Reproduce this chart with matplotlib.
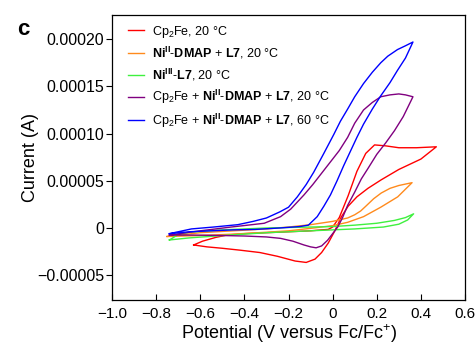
import numpy as np
import matplotlib
matplotlib.use("Agg")
import matplotlib.pyplot as plt

plt.rcParams["font.family"] = ["Liberation Sans", "DejaVu Sans"]
plt.rcParams["mathtext.fontset"] = "custom"
plt.rcParams["mathtext.rm"] = "Liberation Sans"
plt.rcParams["mathtext.it"] = "Liberation Sans:italic"
plt.rcParams["mathtext.bf"] = "Liberation Sans:bold"

# current values are in units of 1e-5 A, each loop listed as one path
red_v = [-0.63, -0.59, -0.53, -0.48, -0.40, -0.30, -0.20, -0.10, -0.05, -0.02, 0.0, 0.03, 0.07,
         0.11, 0.15, 0.19, 0.24, 0.30, 0.38, 0.47,
         0.40, 0.30, 0.22, 0.16, 0.11, 0.07, 0.04, 0.01, -0.02, -0.05, -0.08, -0.12, -0.17, -0.25,
         -0.33, -0.42, -0.50, -0.57, -0.63]
red_i = [-1.8, -1.4, -1.0, -0.75, -0.6, -0.5, -0.4, -0.3, -0.2, -0.15, 0.1, 1.1, 3.4,
         6.0, 7.9, 8.8, 8.7, 8.5, 8.5, 8.6,
         7.3, 6.2, 5.1, 4.2, 3.3, 2.3, 1.2, -0.3, -1.6, -2.6, -3.3, -3.65, -3.5, -3.0,
         -2.6, -2.35, -2.15, -2.0, -1.8]

orange_v = [-0.75, -0.6, -0.45, -0.3, -0.2, -0.086, 0.0, 0.068, 0.14, 0.218, 0.295, 0.36,
            0.30, 0.26, 0.22, 0.186, 0.15, 0.127, 0.10, 0.068, 0.0, -0.1, -0.2, -0.3, -0.45,
            -0.6, -0.75]
orange_i = [-0.9, -0.8, -0.65, -0.45, -0.3, 0.0, 0.25, 0.6, 1.2, 2.2, 3.3, 4.8,
            4.5, 4.2, 3.7, 3.1, 2.3, 1.8, 1.4, 1.06, 0.7, 0.35, 0.1, -0.1, -0.3,
            -0.5, -0.9]

green_v = [-0.74, -0.65, -0.5, -0.3, -0.1, 0.1, 0.23, 0.30, 0.34, 0.367,
           0.33, 0.28, 0.2, 0.1, 0.0, -0.3, -0.5, -0.65, -0.70, -0.74]
green_i = [-1.27, -1.05, -0.8, -0.5, -0.3, -0.1, 0.1, 0.4, 0.85, 1.5,
           1.1, 0.8, 0.5, 0.3, 0.15, 0.0, -0.2, -0.45, -0.7, -1.27]

purple_v = [-0.74, -0.63, -0.5, -0.4, -0.3, -0.236, -0.18, -0.13, -0.1, -0.075, -0.05, -0.023,
            0.0, 0.023, 0.045, 0.068, 0.1, 0.13, 0.16, 0.2, 0.24, 0.28, 0.32, 0.364,
            0.33, 0.30, 0.26, 0.218, 0.18, 0.14, 0.10, 0.068, 0.03, -0.01, -0.04, -0.09,
            -0.13, -0.19, -0.236, -0.31, -0.46, -0.6, -0.74]
purple_i = [-0.75, -0.75, -0.8, -0.85, -0.95, -1.1, -1.4, -1.8, -2.0, -2.1, -1.9, -1.3,
            -0.6, 0.1, 1.1, 2.4, 3.8, 5.2, 6.3, 7.8, 9.0, 10.3, 11.8, 13.9,
            14.1, 14.2, 14.1, 13.9, 13.3, 12.5, 11.1, 9.6, 8.2, 7.0, 6.1, 4.6,
            3.5, 2.0, 1.2, 0.5, 0.1, -0.3, -0.75]

blue_v = [-0.74, -0.65, -0.55, -0.45, -0.35, -0.24, -0.15, -0.11, -0.07, -0.04, -0.01, 0.02,
          0.05, 0.08, 0.11, 0.14, 0.18, 0.218, 0.26, 0.294, 0.33, 0.364,
          0.33, 0.294, 0.25, 0.218, 0.18, 0.14, 0.10, 0.068, 0.035, 0.005, -0.04, -0.086,
          -0.12, -0.16, -0.2, -0.24, -0.3, -0.36, -0.43, -0.54, -0.64, -0.74]
blue_i = [-0.6, -0.4, -0.3, -0.2, -0.15, 0.0, 0.15, 0.3, 1.2, 2.3, 3.5, 5.0,
          6.6, 8.1, 9.6, 11.0, 12.6, 14.0, 15.4, 16.7, 18.0, 19.7,
          19.3, 18.9, 18.2, 17.5, 16.5, 15.3, 13.9, 12.6, 11.3, 9.9, 7.9, 5.9,
          4.6, 3.3, 2.2, 1.7, 1.06, 0.7, 0.35, 0.1, -0.1, -0.6]

labels = [
    "Cp$_2$Fe, 20 °C",
    r"$\mathbf{Ni^{II}}$-$\mathbf{DMAP}$ + $\mathbf{L7}$, 20 °C",
    r"$\mathbf{Ni^{III}}$-$\mathbf{L7}$, 20 °C",
    r"Cp$_2$Fe + $\mathbf{Ni^{II}}$-$\mathbf{DMAP}$ + $\mathbf{L7}$, 20 °C",
    r"Cp$_2$Fe + $\mathbf{Ni^{II}}$-$\mathbf{DMAP}$ + $\mathbf{L7}$, 60 °C",
]
colors = ["#ff0000", "#ff8a1c", "#3ff03f", "#800080", "#0000ff"]

xticks = [-1.0, -0.8, -0.6, -0.4, -0.2, 0.0, 0.2, 0.4, 0.6]
xticklabels = ["−1.0", "−0.8", "−0.6", "−0.4", "−0.2", "0", "0.2", "0.4", "0.6"]
yticks = [-0.00005, 0.0, 0.00005, 0.0001, 0.00015, 0.0002]
yticklabels = ["−0.00005", "0", "0.00005", "0.00010", "0.00015", "0.00020"]

fig = plt.figure(figsize=(4.75, 3.45), dpi=100)
ax = fig.add_axes([0.2358, 0.1304, 0.7432, 0.8261])

curves = [(red_v, red_i), (orange_v, orange_i), (green_v, green_i),
          (purple_v, purple_i), (blue_v, blue_i)]
for (v, i), lab, col in zip(curves, labels, colors):
    ax.plot(v, np.array(i) * 1e-5, color=col, lw=1.0, label=lab)

ax.set_xlim(-1.0, 0.6)
ax.set_ylim(-7.63e-5, 2.256e-4)
ax.set_xticks(xticks)
ax.set_xticklabels(xticklabels)
ax.set_yticks(yticks)
ax.set_yticklabels(yticklabels)
ax.tick_params(axis="x", direction="in", length=4, width=0.8, labelsize=11, pad=5)
ax.tick_params(axis="y", direction="out", length=4, width=0.8, labelsize=11.5, pad=1.5)
for s in ax.spines.values():
    s.set_linewidth(0.9)

ax.set_xlabel("Potential (V versus Fc/Fc$^{+}$)", fontsize=13, labelpad=1)
ax.set_ylabel("Current (A)", fontsize=13)
ax.yaxis.set_label_coords(-0.207, 0.5)

ax.legend(loc="upper left", frameon=False, fontsize=9, handlelength=1.3,
          handletextpad=0.6, labelspacing=0.42, borderaxespad=0.3,
          bbox_to_anchor=(0.02, 1.0))

fig.text(0.036, 0.945, "c", fontsize=16, fontweight="bold", va="top")

fig.savefig("out.png", dpi=100)
